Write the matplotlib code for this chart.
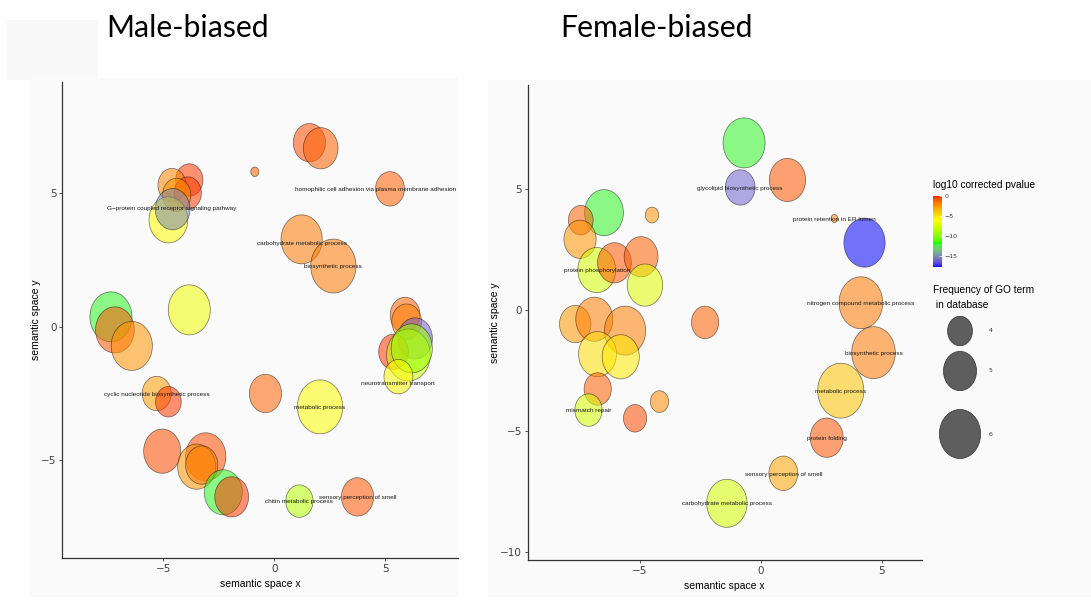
import numpy as np
import matplotlib
matplotlib.use('Agg')
import matplotlib.pyplot as plt
from matplotlib.path import Path
from matplotlib.patches import Rectangle
from matplotlib.colors import ListedColormap, Normalize
from matplotlib.cm import ScalarMappable

# ---- male-biased GO terms ----
male_x = [1.58, 2.09, -0.88, 5.21, -3.83, -4.61, -3.90, -4.40, -4.77, -4.58,
          1.23, 2.66, -3.83, -7.36, -7.18, -6.42, -5.30, -4.77, -0.40, 2.06,
          -5.05, -3.09, -3.50, -3.27, -2.30, -1.92, 1.13, 3.75,
          5.89, 5.96, 6.34, 5.37, 6.04, 6.19, 5.59]
male_y = [6.89, 6.68, 5.80, 5.16, 5.49, 5.30, 5.00, 4.93, 4.00, 4.40,
          3.27, 2.27, 0.63, 0.37, -0.12, -0.72, -2.50, -2.81, -2.50, -3.00,
          -4.66, -4.87, -5.24, -5.18, -6.20, -6.37, -6.53, -6.37,
          0.44, 0.19, -0.44, -0.94, -1.06, -0.81, -1.87]
male_logp = [-0.8, -1.2, -1.2, -1.2, -0.5, -2.2, -0.5, -2.5, -5.8, -15.0,
             -1.8, -1.8, -6.5, -12.0, -1.0, -2.5, -2.8, -0.5, -1.3, -6.0,
             -0.8, -0.8, -2.5, -2.0, -12.0, -0.5, -8.5, -1.0,
             -1.3, -2.0, -16.0, -0.5, -8.0, -9.5, -5.8]
male_freq = [4.9, 5.2, 1.95, 4.5, 4.3, 4.4, 4.3, 4.4, 5.7, 5.2,
             6.0, 6.5, 6.1, 6.1, 5.7, 6.0, 4.5, 4.1, 4.9, 6.5,
             5.5, 5.9, 5.6, 4.9, 5.6, 5.1, 4.3, 4.9,
             4.6, 4.6, 5.2, 4.6, 6.3, 6.0, 4.5]
male_labels = ['homophilic cell adhesion via plasma membrane adhesion',
               'G\u2212protein coupled receptor signaling pathway',
               'carbohydrate metabolic process', 'biosynthetic process',
               'cyclic nucleotide biosynthetic process', 'metabolic process',
               'neurotransmitter transport', 'chitin metabolic process',
               'sensory perception of smell']
male_lab_x = [4.55, -4.60, 1.23, 2.66, -5.28, 2.06, 5.56, 1.13, 3.75]
male_lab_y = [5.15, 4.43, 3.12, 2.24, -2.52, -3.02, -2.12, -6.55, -6.40]

# ---- female-biased GO terms ----
fem_x = [-0.69, -0.85, 1.10, 3.04, 4.28, 4.13, -6.47, -7.43, -7.46, -4.49,
         -6.77, -6.04, -4.94, -4.78, -2.30, -7.66, -6.87, -5.60, -6.74, -5.78,
         -6.73, -7.11, -5.19, -4.18, 4.65, 3.30, 2.72, 0.93, -1.40]
fem_y = [6.90, 5.06, 5.37, 3.78, 2.78, 0.30, 4.02, 3.71, 2.92, 3.92,
         1.65, 1.95, 2.20, 1.03, -0.51, -0.58, -0.38, -0.85, -1.82, -1.93,
         -3.26, -4.13, -4.47, -3.78, -1.76, -3.33, -5.27, -6.74, -7.98]
fem_logp = [-12.0, -16.0, -1.0, -2.0, -17.7, -1.8, -12.0, -1.3, -2.5, -2.5,
            -7.5, -1.0, -1.2, -7.0, -1.2, -2.7, -2.0, -2.0, -4.8, -5.2,
            -1.2, -7.5, -0.8, -2.3, -1.8, -4.0, -1.0, -3.0, -7.5]
fem_freq = [6.1, 4.6, 5.4, 1.8, 6.0, 6.3, 5.7, 4.0, 4.9, 2.6,
            5.6, 5.1, 5.1, 5.3, 4.3, 4.8, 5.5, 6.0, 5.6, 5.5,
            4.3, 4.3, 3.8, 3.2, 6.3, 6.6, 5.0, 4.5, 5.9]
fem_labels = ['glycolipid biosynthetic process', 'protein retention in ER lumen',
              'protein phosphorylation', 'nitrogen compound metabolic process',
              'biosynthetic process', 'metabolic process', 'mismatch repair',
              'protein folding', 'sensory perception of smell',
              'carbohydrate metabolic process']
fem_lab_x = [-0.86, 3.04, -6.76, 4.13, 4.65, 3.30, -7.11, 2.72, 0.93, -1.40]
fem_lab_y = [5.03, 3.75, 1.62, 0.25, -1.80, -3.37, -4.13, -5.29, -6.77, -8.00]

legend_freq = [4, 5, 6]
pval_ticks = [0, -5, -10, -15]
pmin = -17.7

W, H = 1091, 614
fig = plt.figure(figsize=(W / 100, H / 100), dpi=100)


def px_axes(x0, y0, x1, y1, **kw):
    return fig.add_axes([x0 / W, 1 - y1 / H, (x1 - x0) / W, (y1 - y0) / H], **kw)


def px_rect(x0, y0, x1, y1, color):
    fig.add_artist(Rectangle((x0 / W, 1 - y1 / H), (x1 - x0) / W, (y1 - y0) / H,
                             transform=fig.transFigure, color=color, lw=0, zorder=-5))


# blue -> green -> yellow -> red, interpolated in Lab like ggplot's gradientn
M = np.array([[0.4124, 0.3576, 0.1805], [0.2126, 0.7152, 0.0722], [0.0193, 0.1192, 0.9505]])
WHITE = np.array([0.95047, 1.0, 1.08883])


def to_lab(rgb):
    c = np.asarray(rgb, float)
    lin = np.where(c <= 0.04045, c / 12.92, ((c + 0.055) / 1.055) ** 2.4)
    xyz = lin @ M.T / WHITE
    f = np.where(xyz > 0.008856, np.cbrt(xyz), 7.787 * xyz + 16 / 116)
    return np.stack([116 * f[..., 1] - 16, 500 * (f[..., 0] - f[..., 1]),
                     200 * (f[..., 1] - f[..., 2])], -1)


def from_lab(lab):
    fy = (lab[..., 0] + 16) / 116
    f = np.stack([fy + lab[..., 1] / 500, fy, fy - lab[..., 2] / 200], -1)
    xyz = np.where(f ** 3 > 0.008856, f ** 3, (f - 16 / 116) / 7.787) * WHITE
    lin = np.clip(xyz @ np.linalg.inv(M).T, 0, 1)
    c = np.where(lin <= 0.0031308, 12.92 * lin, 1.055 * lin ** (1 / 2.4) - 0.055)
    return np.clip(c, 0, 1)


stops = to_lab([[0, 0, 1], [0, 1, 0], [1, 1, 0], [1, 0, 0]])
tt = np.linspace(0, 1, 256)
pos = np.linspace(0, 1, 4)
lab = np.stack([np.interp(tt, pos, stops[:, k]) for k in range(3)], -1)
cmap = ListedColormap(from_lab(lab))
norm = Normalize(pmin, 0)

# bubbles are a bit taller than wide
theta = np.linspace(0, 2 * np.pi, 73)
ELL = Path(np.c_[np.cos(theta) / 1.19, np.sin(theta)])


def msize(f):
    h = (8.2 * np.asarray(f, float) - 8) * 1.19
    return (h * 0.72) ** 2


def draw_panel(ax, xs, ys, ps, fs, labels, lx, ly, xlim, ylim, yticks):
    ax.set_facecolor('none')
    ax.scatter(xs, ys, s=msize(fs), c=ps, cmap=cmap, norm=norm, alpha=0.55,
               marker=ELL, edgecolors='black', linewidths=0.5)
    for t, x, y in zip(labels, lx, ly):
        ax.text(x, y, t, fontsize=4.55, family='Liberation Sans', color='#1a1a1a',
                ha='center', va='center')
    ax.set_xlim(*xlim)
    ax.set_ylim(*ylim)
    ax.set_xticks([-5, 0, 5])
    ax.set_yticks(yticks)
    for s in ['top', 'right']:
        ax.spines[s].set_visible(False)
    for s in ['left', 'bottom']:
        ax.spines[s].set_color('#333333')
        ax.spines[s].set_linewidth(0.9)
    ax.tick_params(length=2.5, width=0.6, color='#333333', labelsize=7.5,
                   labelcolor='#404040', pad=1.5)
    ax.set_xlabel('semantic space x', fontsize=7.5, family='Liberation Sans', labelpad=4)
    ax.set_ylabel('semantic space y', fontsize=7.5, family='Liberation Sans', labelpad=0.5)


# faint slide backgrounds
px_rect(7, 20, 98, 80, '#f9f9f9')
px_rect(30, 78, 458, 597, '#fafafa')
px_rect(488, 80, 1091, 597, '#fafafa')

ax1 = px_axes(62.3, 82, 457.7, 558.3)
draw_panel(ax1, male_x, male_y, male_logp, male_freq, male_labels, male_lab_x, male_lab_y,
           (-9.55, 8.26), (-8.67, 9.16), [-5, 0, 5])

ax2 = px_axes(527.7, 85, 921.7, 560)
draw_panel(ax2, fem_x, fem_y, fem_logp, fem_freq, fem_labels, fem_lab_x, fem_lab_y,
           (-9.62, 6.64), (-10.32, 9.29), [-10, -5, 0, 5])

fig.text(106 / W, 1 - 37 / H, 'Male-biased', family='Lato', fontsize=21.8, va='baseline')
fig.text(560 / W, 1 - 37 / H, 'Female-biased', family='Lato', fontsize=21.8, va='baseline')

# colour legend
fig.text(933 / W, 1 - 185 / H, 'log10 corrected pvalue', fontsize=7.3,
         family='Liberation Sans', va='center')
cax = px_axes(933, 195.5, 942, 267)
cb = fig.colorbar(ScalarMappable(norm=norm, cmap=cmap), cax=cax, ticks=pval_ticks)
cb.outline.set_visible(False)
cb.ax.tick_params(length=2, width=0.5, color='white', direction='in',
                  labelsize=4.5, labelcolor='#333333', pad=2)

# size legend
fig.text(933 / W, 1 - 290 / H, 'Frequency of GO term', fontsize=7.3,
         family='Liberation Sans', va='center')
fig.text(933 / W, 1 - 305 / H, ' in database', fontsize=7.3,
         family='Liberation Sans', va='center')
lax = px_axes(0, 0, W, H, facecolor='none', zorder=5)
lax.set_xlim(0, W)
lax.set_ylim(H, 0)
lax.axis('off')
leg_y = [331, 371, 434]
lax.scatter([960] * 3, leg_y, s=msize(legend_freq), marker=ELL,
            facecolor='#5e5e5e', edgecolor='#333333', linewidths=0.5)
for f, y in zip(legend_freq, leg_y):
    lax.text(989, y, str(f), fontsize=4.5, color='#333333', va='center')

fig.savefig('out.png', dpi=100)
